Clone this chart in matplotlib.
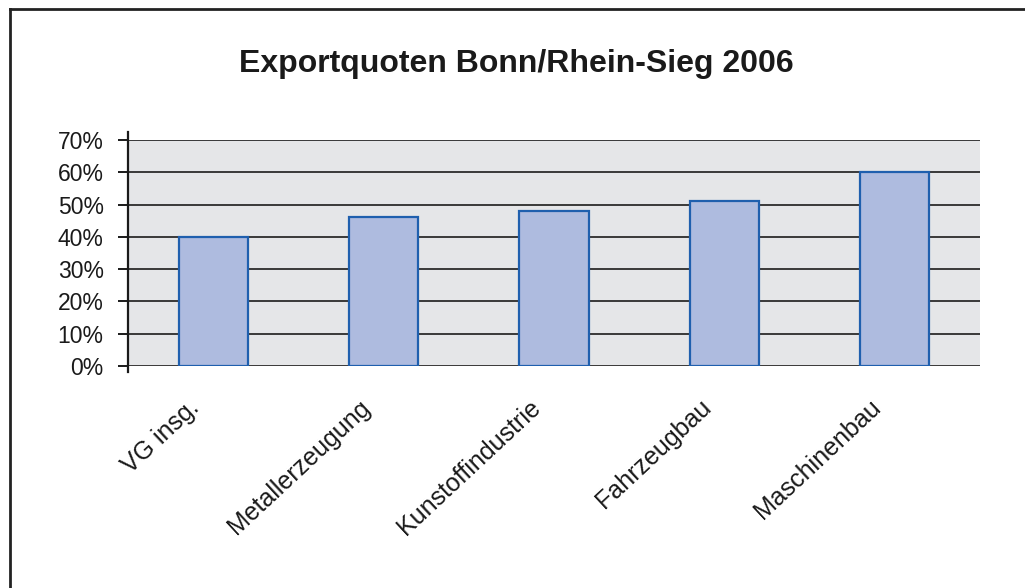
import numpy as np
import matplotlib.pyplot as plt
import matplotlib.transforms as mtransforms
from matplotlib.lines import Line2D
from matplotlib.ticker import FuncFormatter

plt.rcParams['font.family'] = ['Liberation Sans', 'DejaVu Sans']

# Daten
kategorien = ['VG insg.', 'Metallerzeugung', 'Kunstoffindustrie', 'Fahrzeugbau', 'Maschinenbau']
quoten = [40, 46, 48, 51, 60]   # Prozent
y_ticks = [0, 10, 20, 30, 40, 50, 60, 70]

fig = plt.figure(figsize=(10.25, 5.88), dpi=100)
ax = fig.add_axes([128 / 1025, 1 - 366 / 588, (980 - 128) / 1025, (366 - 140) / 588])

ax.set_facecolor('#e5e6e8')
x = np.arange(len(kategorien))
ax.bar(x, quoten, width=0.405, color='#aebbdf', edgecolor='#1f5fae', linewidth=1.6, zorder=3)

ax.set_xlim(-0.5, len(kategorien) - 0.5)
ax.set_ylim(0, 70)
ax.set_yticks(y_ticks)
ax.yaxis.set_major_formatter(FuncFormatter(lambda v, p: f'{int(v)}%'))
ax.grid(axis='y', color='#2b2b2b', linewidth=1.3, zorder=1)
ax.set_axisbelow(True)

for s in ['top', 'right', 'bottom']:
    ax.spines[s].set_visible(False)
ax.spines['left'].set_linewidth(1.6)
ax.spines['left'].set_color('#1a1a1a')
ax.spines['left'].set_bounds(-1.8, 72.5)
ax.spines['left'].set_zorder(4)

ax.tick_params(axis='y', length=7.5, width=1.4, color='#1a1a1a', pad=10, labelsize=16.5, labelcolor='#1a1a1a')
ax.set_xticks(x)
ax.set_xticklabels(kategorien, rotation=43, ha='right', va='top', fontsize=18, color='#1a1a1a')
ax.tick_params(axis='x', length=0, pad=21)

# Beschriftungen etwas nach links verschieben
verschiebung = mtransforms.ScaledTranslation(-9 / 100, 0, fig.dpi_scale_trans)
for lbl in ax.get_xticklabels():
    lbl.set_transform(lbl.get_transform() + verschiebung)

fig.text(516 / 1025, 1 - 64 / 588, 'Exportquoten Bonn/Rhein-Sieg 2006', ha='center', va='center',
         fontsize=23, fontweight='bold', color='#1a1a1a')

# Rahmen oben und links
fig.add_artist(Line2D([9.5 / 1025, 1], [1 - 8.5 / 588, 1 - 8.5 / 588], color='#222222', linewidth=2))
fig.add_artist(Line2D([9.5 / 1025, 9.5 / 1025], [0, 1 - 8.5 / 588], color='#222222', linewidth=2))

fig.savefig('out.png', dpi=100)
